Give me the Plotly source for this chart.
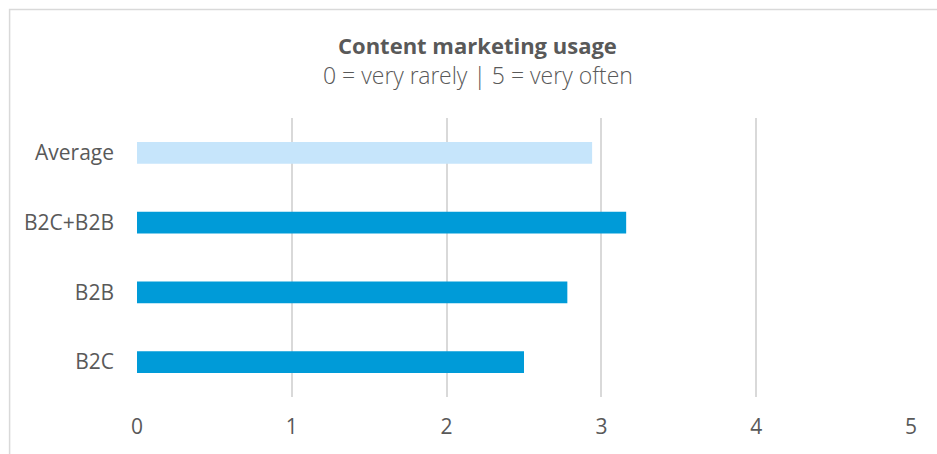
import plotly.graph_objects as go

# Survey answers, mean score per company type (0 = very rarely, 5 = very often)
categories = ["B2C", "B2B", "B2C+B2B", "Average"]
scores = [2.50, 2.78, 3.16, 2.94]
bar_colors = ["#009BD8", "#009BD8", "#009BD8", "#C6E5FB"]
tick_values = [0, 1, 2, 3, 4, 5]

W, H = 937, 454
ML, MR, MT, MB = 137, 25.5, 118, 57

fig = go.Figure(
    go.Bar(
        x=scores,
        y=categories,
        orientation="h",
        marker=dict(color=bar_colors, line=dict(width=0)),
        width=0.315,
        hoverinfo="x+y",
    )
)

text_color = "#595959"
font_family = "Open Sans, Noto Sans, sans-serif"

fig.update_layout(
    width=W,
    height=H,
    margin=dict(l=ML, r=MR, t=MT, b=MB, pad=0),
    paper_bgcolor="white",
    plot_bgcolor="white",
    showlegend=False,
    font=dict(family=font_family, color=text_color, size=21),
    xaxis=dict(
        range=[0, 5],
        tickvals=tick_values,
        showgrid=True,
        gridcolor="#D9D9D9",
        gridwidth=2,
        zeroline=False,
        showline=False,
        ticks="",
        ticklabelstandoff=15,
        tickfont=dict(size=21, color=text_color),
        fixedrange=True,
    ),
    yaxis=dict(
        categoryorder="array",
        categoryarray=categories,
        showgrid=False,
        zeroline=False,
        showline=False,
        ticks="",
        ticklabelstandoff=22,
        tickfont=dict(size=21, color=text_color),
        fixedrange=True,
    ),
)

# Title block above the plot area
pw = W - ML - MR
ph = H - MT - MB
def px_to_paper_x(px):
    return (px - ML) / pw

def px_to_paper_y(py):
    return (H - MB - py) / ph

fig.add_annotation(
    text="<b>Content marketing usage</b>",
    x=px_to_paper_x(477.5), y=px_to_paper_y(45),
    xref="paper", yref="paper", xanchor="center", yanchor="middle",
    showarrow=False, font=dict(size=22, color=text_color, family=font_family),
)
fig.add_annotation(
    text="0 = very rarely | 5 = very often",
    x=px_to_paper_x(478), y=px_to_paper_y(75),
    xref="paper", yref="paper", xanchor="center", yanchor="middle",
    showarrow=False, font=dict(size=23, color=text_color, family="Open Sans Light, Open Sans, sans-serif"),
)

# Chart frame
fig.add_shape(
    type="rect",
    xref="paper", yref="paper",
    x0=px_to_paper_x(9.5), x1=px_to_paper_x(960),
    y0=px_to_paper_y(480), y1=px_to_paper_y(9.5),
    line=dict(color="#D9D9D9", width=1.5),
    fillcolor="rgba(0,0,0,0)",
    layer="below",
)

fig.write_html("out.html")
